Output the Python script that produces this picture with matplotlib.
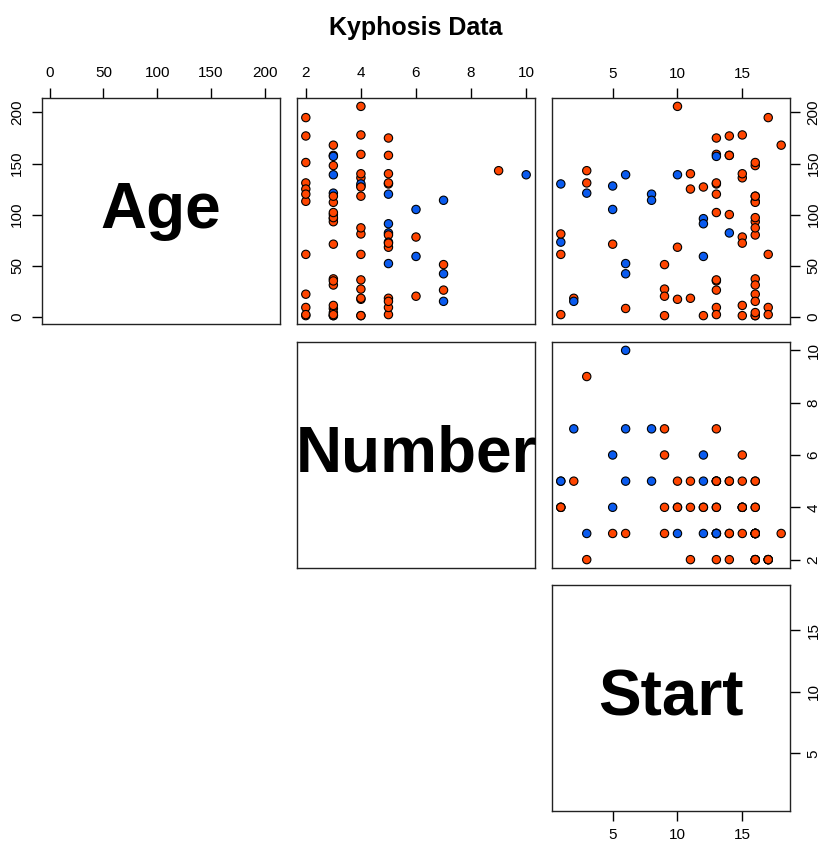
import matplotlib
matplotlib.use("Agg")
import matplotlib.pyplot as plt
import numpy as np

plt.rcParams['font.family'] = ['Liberation Sans', 'DejaVu Sans']

# kyphosis data (rpart)
kyphosis = ["absent", "absent", "present", "absent", "absent", "absent", "absent", "absent", "absent",
            "present", "present", "absent", "absent", "absent", "absent", "absent", "absent", "absent",
            "absent", "absent", "absent", "present", "present", "absent", "present", "absent", "absent",
            "absent", "absent", "absent", "absent", "absent", "absent", "absent", "absent", "absent",
            "absent", "present", "absent", "present", "present", "absent", "absent", "absent", "absent",
            "present", "absent", "absent", "present", "absent", "absent", "absent", "present", "absent",
            "absent", "absent", "absent", "present", "absent", "absent", "present", "present", "absent",
            "absent", "absent", "absent", "absent", "absent", "absent", "absent", "absent", "absent",
            "absent", "absent", "absent", "absent", "present", "absent", "absent", "present", "absent"]
age = [71, 158, 128, 2, 1, 1, 61, 37, 113, 59, 82, 148, 18, 1, 168, 1, 78, 175, 80, 27, 22, 105, 96,
       131, 15, 9, 8, 100, 4, 151, 31, 125, 130, 112, 140, 93, 1, 52, 20, 91, 73, 35, 143, 61, 97,
       139, 136, 131, 121, 177, 68, 9, 139, 2, 140, 72, 2, 120, 51, 102, 130, 114, 81, 118, 118, 17,
       195, 159, 18, 15, 158, 127, 87, 206, 11, 178, 157, 26, 120, 42, 36]
number = [3, 3, 4, 5, 4, 2, 2, 3, 2, 6, 5, 3, 5, 4, 3, 3, 6, 5, 5, 4, 2, 6, 3, 2, 7, 5, 3, 3, 3, 2,
          3, 2, 5, 3, 5, 3, 3, 5, 6, 5, 5, 3, 9, 4, 3, 3, 4, 5, 3, 2, 5, 2, 10, 2, 4, 5, 3, 5, 7, 3,
          4, 7, 4, 3, 4, 4, 2, 4, 4, 5, 5, 4, 4, 4, 3, 4, 3, 7, 2, 7, 4]
start = [5, 14, 5, 1, 15, 16, 17, 16, 16, 12, 14, 16, 2, 12, 18, 16, 15, 13, 16, 9, 16, 5, 12, 3, 2,
         13, 6, 14, 16, 16, 16, 11, 13, 16, 11, 16, 9, 6, 9, 12, 1, 13, 3, 1, 16, 10, 15, 13, 3, 14,
         10, 17, 6, 17, 15, 15, 13, 8, 9, 13, 1, 8, 1, 16, 16, 10, 17, 13, 11, 16, 14, 12, 16, 10, 15,
         15, 13, 13, 13, 6, 13]

names = ["Age", "Number", "Start"]
ticks = [[0, 50, 100, 150, 200], [2, 4, 6, 8, 10], [5, 10, 15]]
colors = {"absent": "#FF4500", "present": "#0A5BEF"}

data = [np.array(age), np.array(number), np.array(start)]
cols = [colors[k] for k in kyphosis]

W, H = 819, 844
fig = plt.figure(figsize=(W / 100, H / 100), dpi=100)

lefts = [42, 297, 552]
tops = [98, 342, 585]
pw, ph = 238, 226


def lims(v):
    lo, hi = v.min(), v.max()
    pad = (hi - lo) * 0.04
    return lo - pad, hi + pad


axes = {}
for i in range(3):
    for j in range(i, 3):
        ax = fig.add_axes([lefts[j] / W, (H - tops[i] - ph) / H, pw / W, ph / H])
        ax.set_xlim(lims(data[j]))
        ax.set_ylim(lims(data[i]))
        for s in ax.spines.values():
            s.set_linewidth(1.0)
            s.set_color("#222222")
        ax.tick_params(length=7, width=1.0, pad=6, labelsize=11,
                       bottom=False, labelbottom=False, left=False, labelleft=False,
                       top=False, labeltop=False, right=False, labelright=False)
        ax.set_xticks(ticks[j])
        ax.set_yticks(ticks[i])
        if i == j:
            ax.text(0.5, 0.5, names[i], transform=ax.transAxes, ha='center', va='center',
                    fontsize=46, fontweight='bold')
        else:
            ax.scatter(data[j], data[i], c=cols, s=36, edgecolors='black', linewidths=0.8,
                       zorder=3, clip_on=False)
        axes[(i, j)] = ax

# axes as in the reference
for j in range(3):
    axes[(0, j)].tick_params(top=True, labeltop=True)
axes[(0, 0)].tick_params(left=True, labelleft=True)
for i in range(3):
    axes[(i, 2)].tick_params(right=True, labelright=True, pad=5)
axes[(2, 2)].tick_params(bottom=True, labelbottom=True)
for ax in axes.values():
    for lab in ax.get_yticklabels():
        lab.set_rotation(90)
        lab.set_va('center')

fig.text(416 / W, 1 - 28 / H, "Kyphosis Data", ha='center', va='center',
         fontsize=18, fontweight='bold')

fig.savefig("out.png", dpi=100)
